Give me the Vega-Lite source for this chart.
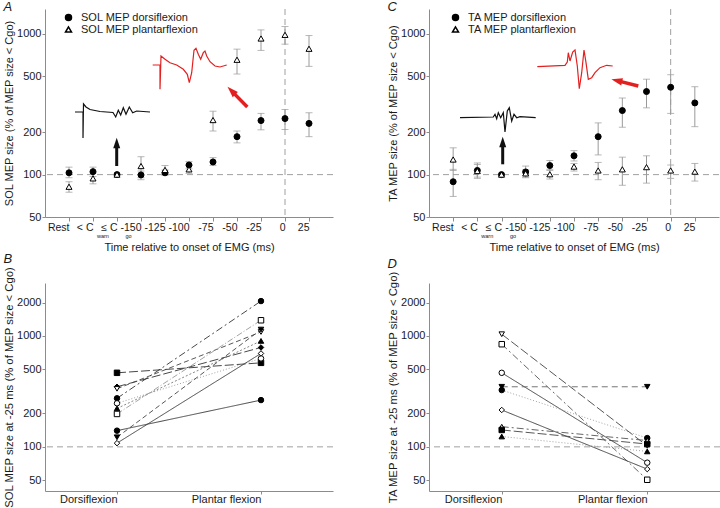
{
  "$schema": "https://vega.github.io/schema/vega-lite/v6.json",
  "padding": {"left": 3, "top": 0, "right": 0, "bottom": 0},
  "config": {
    "font": "Liberation Sans",
    "view": {"stroke": null},
    "axis": {"domainColor": "#8c8c8c", "tickColor": "#8c8c8c", "labelColor": "#1a1a1a", "titleColor": "#1a1a1a", "labelFontSize": 11, "titleFontSize": 11, "titleFontWeight": "normal", "grid": false, "tickSize": 3, "labelPadding": 2, "labelFont": "Liberation Sans", "titleFont": "Liberation Sans"},
    "title": {"fontSize": 13, "fontStyle": "italic", "fontWeight": "normal", "anchor": "start", "frame": "bounds", "font": "Liberation Sans", "color": "#1a1a1a"}
  },
  "datasets": {
    "solA": [
      {"cond": "Rest", "series": "SOL MEP dorsiflexion", "v": 103, "lo": 95, "hi": 113},
      {"cond": "<Cwarn", "series": "SOL MEP dorsiflexion", "v": 105, "lo": 97, "hi": 113},
      {"cond": "≤Cgo", "series": "SOL MEP dorsiflexion", "v": 100, "lo": null, "hi": null},
      {"cond": "-150", "series": "SOL MEP dorsiflexion", "v": 99.5, "lo": 92, "hi": 106},
      {"cond": "-125", "series": "SOL MEP dorsiflexion", "v": 103, "lo": 99, "hi": 108},
      {"cond": "-100", "series": "SOL MEP dorsiflexion", "v": 117, "lo": 110, "hi": 124},
      {"cond": "-75", "series": "SOL MEP dorsiflexion", "v": 123, "lo": 116, "hi": 132},
      {"cond": "-50", "series": "SOL MEP dorsiflexion", "v": 186, "lo": 168, "hi": 204},
      {"cond": "-25", "series": "SOL MEP dorsiflexion", "v": 242, "lo": 208, "hi": 272},
      {"cond": "0", "series": "SOL MEP dorsiflexion", "v": 250, "lo": 209, "hi": 290},
      {"cond": "25", "series": "SOL MEP dorsiflexion", "v": 231, "lo": 186, "hi": 275},
      {"cond": "Rest", "series": "SOL MEP plantarflexion", "v": 82, "lo": 75, "hi": 89},
      {"cond": "<Cwarn", "series": "SOL MEP plantarflexion", "v": 94, "lo": 86, "hi": 103},
      {"cond": "≤Cgo", "series": "SOL MEP plantarflexion", "v": 100, "lo": null, "hi": null},
      {"cond": "-150", "series": "SOL MEP plantarflexion", "v": 115, "lo": 95, "hi": 134},
      {"cond": "-125", "series": "SOL MEP plantarflexion", "v": 108, "lo": 102, "hi": 116},
      {"cond": "-100", "series": "SOL MEP plantarflexion", "v": 109, "lo": 102, "hi": 116},
      {"cond": "-75", "series": "SOL MEP plantarflexion", "v": 244, "lo": 204, "hi": 282},
      {"cond": "-50", "series": "SOL MEP plantarflexion", "v": 654, "lo": 518, "hi": 778},
      {"cond": "-25", "series": "SOL MEP plantarflexion", "v": 926, "lo": 762, "hi": 1066},
      {"cond": "0", "series": "SOL MEP plantarflexion", "v": 983, "lo": 844, "hi": 1126},
      {"cond": "25", "series": "SOL MEP plantarflexion", "v": 783, "lo": 587, "hi": 972}
    ],
    "taC": [
      {"cond": "Rest", "series": "TA MEP dorsiflexion", "v": 89, "lo": 70, "hi": 109},
      {"cond": "<Cwarn", "series": "TA MEP dorsiflexion", "v": 107, "lo": 96, "hi": 121},
      {"cond": "≤Cgo", "series": "TA MEP dorsiflexion", "v": 100, "lo": null, "hi": null},
      {"cond": "-150", "series": "TA MEP dorsiflexion", "v": 104.5, "lo": 95, "hi": 115},
      {"cond": "-125", "series": "TA MEP dorsiflexion", "v": 116, "lo": 107, "hi": 126},
      {"cond": "-100", "series": "TA MEP dorsiflexion", "v": 136, "lo": 125, "hi": 148},
      {"cond": "-75", "series": "TA MEP dorsiflexion", "v": 186, "lo": 138, "hi": 233},
      {"cond": "-50", "series": "TA MEP dorsiflexion", "v": 285, "lo": 217, "hi": 350},
      {"cond": "-25", "series": "TA MEP dorsiflexion", "v": 389, "lo": 298, "hi": 476},
      {"cond": "0", "series": "TA MEP dorsiflexion", "v": 417, "lo": 272, "hi": 512},
      {"cond": "25", "series": "TA MEP dorsiflexion", "v": 323, "lo": 219, "hi": 421},
      {"cond": "Rest", "series": "TA MEP plantarflexion", "v": 128, "lo": 107, "hi": 155},
      {"cond": "<Cwarn", "series": "TA MEP plantarflexion", "v": 106, "lo": 94, "hi": 118},
      {"cond": "≤Cgo", "series": "TA MEP plantarflexion", "v": 100, "lo": null, "hi": null},
      {"cond": "-150", "series": "TA MEP plantarflexion", "v": 102, "lo": 96, "hi": 108},
      {"cond": "-125", "series": "TA MEP plantarflexion", "v": 100.6, "lo": 93, "hi": 109},
      {"cond": "-100", "series": "TA MEP plantarflexion", "v": 114, "lo": 106, "hi": 120},
      {"cond": "-75", "series": "TA MEP plantarflexion", "v": 107, "lo": 92, "hi": 122},
      {"cond": "-50", "series": "TA MEP plantarflexion", "v": 109, "lo": 84, "hi": 133},
      {"cond": "-25", "series": "TA MEP plantarflexion", "v": 113, "lo": 87, "hi": 136},
      {"cond": "0", "series": "TA MEP plantarflexion", "v": 107, "lo": 94, "hi": 117},
      {"cond": "25", "series": "TA MEP plantarflexion", "v": 105, "lo": 90, "hi": 120}
    ],
    "solB": [
      {"subj": "s1", "cond": "Dorsiflexion", "v": 465}, {"subj": "s1", "cond": "Plantar flexion", "v": 572},
      {"subj": "s2", "cond": "Dorsiflexion", "v": 348}, {"subj": "s2", "cond": "Plantar flexion", "v": 787},
      {"subj": "s3", "cond": "Dorsiflexion", "v": 334}, {"subj": "s3", "cond": "Plantar flexion", "v": 1086},
      {"subj": "s4", "cond": "Dorsiflexion", "v": 274}, {"subj": "s4", "cond": "Plantar flexion", "v": 2062},
      {"subj": "s5", "cond": "Dorsiflexion", "v": 247}, {"subj": "s5", "cond": "Plantar flexion", "v": 627},
      {"subj": "s6", "cond": "Dorsiflexion", "v": 222}, {"subj": "s6", "cond": "Plantar flexion", "v": 902},
      {"subj": "s7", "cond": "Dorsiflexion", "v": 198}, {"subj": "s7", "cond": "Plantar flexion", "v": 1384},
      {"subj": "s8", "cond": "Dorsiflexion", "v": 140}, {"subj": "s8", "cond": "Plantar flexion", "v": 264},
      {"subj": "s9", "cond": "Dorsiflexion", "v": 122}, {"subj": "s9", "cond": "Plantar flexion", "v": 1141},
      {"subj": "s10", "cond": "Dorsiflexion", "v": 108}, {"subj": "s10", "cond": "Plantar flexion", "v": 695}
    ],
    "taD": [
      {"subj": "d1", "cond": "Dorsiflexion", "v": 1036}, {"subj": "d1", "cond": "Plantar flexion", "v": 102},
      {"subj": "d2", "cond": "Dorsiflexion", "v": 842}, {"subj": "d2", "cond": "Plantar flexion", "v": 50.5},
      {"subj": "d3", "cond": "Dorsiflexion", "v": 465}, {"subj": "d3", "cond": "Plantar flexion", "v": 72},
      {"subj": "d4", "cond": "Dorsiflexion", "v": 348}, {"subj": "d4", "cond": "Plantar flexion", "v": 348},
      {"subj": "d5", "cond": "Dorsiflexion", "v": 325}, {"subj": "d5", "cond": "Plantar flexion", "v": 120},
      {"subj": "d6", "cond": "Dorsiflexion", "v": 215}, {"subj": "d6", "cond": "Plantar flexion", "v": 63},
      {"subj": "d7", "cond": "Dorsiflexion", "v": 152}, {"subj": "d7", "cond": "Plantar flexion", "v": 114},
      {"subj": "d8", "cond": "Dorsiflexion", "v": 142}, {"subj": "d8", "cond": "Plantar flexion", "v": 106},
      {"subj": "d9", "cond": "Dorsiflexion", "v": 124}, {"subj": "d9", "cond": "Plantar flexion", "v": 91}
    ],
    "trA_k": [
      {"i": 1, "t": 30, "a": 105}, {"i": 2, "t": 38, "a": 105}, {"i": 3, "t": 38, "a": 79}, {"i": 4, "t": 38.5, "a": 113},
      {"i": 5, "t": 41, "a": 110}, {"i": 6, "t": 45, "a": 107.5}, {"i": 7, "t": 55, "a": 105.5}, {"i": 8, "t": 68, "a": 104.5},
      {"i": 9, "t": 70.7, "a": 100}, {"i": 10, "t": 73.3, "a": 106.7}, {"i": 11, "t": 75.7, "a": 102}, {"i": 12, "t": 78.3, "a": 109.3},
      {"i": 13, "t": 81, "a": 102.7}, {"i": 14, "t": 84.3, "a": 110}, {"i": 15, "t": 87.7, "a": 104.3}, {"i": 16, "t": 91.7, "a": 106},
      {"i": 17, "t": 105, "a": 105}
    ],
    "trA_r": [
      {"i": 1, "t": 107.7, "a": 152}, {"i": 2, "t": 115, "a": 152}, {"i": 3, "t": 115, "a": 127.7}, {"i": 4, "t": 116, "a": 161},
      {"i": 5, "t": 120, "a": 157.7}, {"i": 6, "t": 125, "a": 154.3}, {"i": 7, "t": 131.7, "a": 152}, {"i": 8, "t": 138.3, "a": 147.7},
      {"i": 9, "t": 142.3, "a": 142.7}, {"i": 10, "t": 144.3, "a": 134.3}, {"i": 11, "t": 146.7, "a": 144.3}, {"i": 12, "t": 149, "a": 166.7},
      {"i": 13, "t": 151, "a": 168.7}, {"i": 14, "t": 153.3, "a": 162.7}, {"i": 15, "t": 155.7, "a": 157.7}, {"i": 16, "t": 158.3, "a": 164.3},
      {"i": 17, "t": 160, "a": 166}, {"i": 18, "t": 161.7, "a": 161}, {"i": 19, "t": 165, "a": 155.3}, {"i": 20, "t": 170, "a": 151},
      {"i": 21, "t": 175, "a": 150}, {"i": 22, "t": 181.7, "a": 152}
    ],
    "shA_k": [{"i": 1, "t": 71.7, "a": 51}, {"i": 2, "t": 71.7, "a": 70}],
    "hdA_k": [{"t": 71.7, "a": 73.8}],
    "shA_r": [{"i": 1, "t": 202.3, "a": 110}, {"i": 2, "t": 188.5, "a": 124.1}],
    "hdA_r": [{"t": 186.6, "a": 126.1}],
    "trC_k": [
      {"i": 1, "t": 31, "a": 99.3}, {"i": 2, "t": 64.3, "a": 100}, {"i": 3, "t": 66, "a": 102.7}, {"i": 4, "t": 67.7, "a": 98.3},
      {"i": 5, "t": 69.3, "a": 104.3}, {"i": 6, "t": 71.7, "a": 99.3}, {"i": 7, "t": 74.3, "a": 104.3}, {"i": 8, "t": 76, "a": 85},
      {"i": 9, "t": 78.3, "a": 106}, {"i": 10, "t": 80.3, "a": 109.3}, {"i": 11, "t": 82.7, "a": 96}, {"i": 12, "t": 85, "a": 102.7},
      {"i": 13, "t": 87.7, "a": 99.3}, {"i": 14, "t": 91, "a": 100.3}, {"i": 15, "t": 106.7, "a": 99.3}
    ],
    "trC_r": [
      {"i": 1, "t": 108.3, "a": 150.3}, {"i": 2, "t": 136, "a": 151.7}, {"i": 3, "t": 138.3, "a": 155}, {"i": 4, "t": 139.3, "a": 164.3},
      {"i": 5, "t": 141, "a": 156}, {"i": 6, "t": 143.7, "a": 165}, {"i": 7, "t": 146, "a": 167}, {"i": 8, "t": 148.3, "a": 151},
      {"i": 9, "t": 150.3, "a": 128.3}, {"i": 10, "t": 152.7, "a": 144.3}, {"i": 11, "t": 155, "a": 167}, {"i": 12, "t": 157, "a": 154.3},
      {"i": 13, "t": 159.3, "a": 137.7}, {"i": 14, "t": 162.7, "a": 139.3}, {"i": 15, "t": 166, "a": 144.3}, {"i": 16, "t": 171, "a": 149.3},
      {"i": 17, "t": 177.7, "a": 151.7}, {"i": 18, "t": 183.7, "a": 151}
    ],
    "shC_k": [{"i": 1, "t": 73.7, "a": 52.7}, {"i": 2, "t": 73.7, "a": 70}],
    "hdC_k": [{"t": 73.7, "a": 74.8}],
    "shC_r": [{"i": 1, "t": 209.3, "a": 131}, {"i": 2, "t": 190, "a": 135.9}],
    "hdC_r": [{"t": 188, "a": 136.4}]
  },
  "resolve": {"scale": {"shape": "independent", "fill": "independent", "stroke": "independent", "strokeDash": "independent"}, "legend": {"shape": "independent", "fill": "independent", "stroke": "independent"}},
  "spacing": 0,
  "vconcat": [
    {
      "spacing": 53,
      "resolve": {"scale": {"shape": "independent", "fill": "independent", "stroke": "independent", "strokeDash": "independent"}, "legend": {"shape": "independent", "fill": "independent", "stroke": "independent"}},
      "hconcat": [
        {
          "width": 288, "height": 208,
          "title": {"text": "A", "offset": -5},
          "resolve": {"scale": {"x": "independent", "y": "independent"}, "axis": {"x": "independent", "y": "independent"}},
          "layer": [
            {
              "data": {"name": "solA"},
              "layer": [
                {"data": {"values": [{}]}, "mark": {"type": "rule", "color": "#a0a0a0", "strokeDash": [6, 4], "strokeWidth": 1}, "encoding": {"y": {"datum": 100, "type": "quantitative", "scale": {"type": "log", "domain": [50, 1500], "nice": false}}}},
                {"data": {"values": [{}]}, "mark": {"type": "rule", "color": "#a0a0a0", "strokeDash": [6, 4], "strokeWidth": 1}, "encoding": {"x": {"datum": "0", "type": "ordinal", "scale": {"type": "point", "domain": ["Rest", "<Cwarn", "≤Cgo", "-150", "-125", "-100", "-75", "-50", "-25", "0", "25"], "padding": 1}}}},
                {"transform": [{"filter": "datum.lo != null"}], "mark": {"type": "rule", "color": "#9a9a9a", "strokeWidth": 1},
                 "encoding": {
                   "x": {"field": "cond", "type": "ordinal", "title": "Time relative to onset of EMG (ms)", "scale": {"type": "point", "domain": ["Rest", "<Cwarn", "≤Cgo", "-150", "-125", "-100", "-75", "-50", "-25", "0", "25"], "padding": 1}},
                   "y": {"field": "lo", "type": "quantitative", "title": "SOL MEP size (% of MEP size < Cgo)", "scale": {"type": "log", "domain": [50, 1500], "nice": false}},
                   "y2": {"field": "hi"}}},
                {"transform": [{"filter": "datum.lo != null"}], "mark": {"type": "tick", "color": "#9a9a9a", "size": 7, "thickness": 1},
                 "encoding": {
                   "x": {"field": "cond", "type": "ordinal", "title": "Time relative to onset of EMG (ms)", "scale": {"type": "point", "domain": ["Rest", "<Cwarn", "≤Cgo", "-150", "-125", "-100", "-75", "-50", "-25", "0", "25"], "padding": 1}},
                   "y": {"field": "lo", "type": "quantitative", "title": "SOL MEP size (% of MEP size < Cgo)", "scale": {"type": "log", "domain": [50, 1500], "nice": false}}}},
                {"transform": [{"filter": "datum.lo != null"}], "mark": {"type": "tick", "color": "#9a9a9a", "size": 7, "thickness": 1},
                 "encoding": {
                   "x": {"field": "cond", "type": "ordinal", "title": "Time relative to onset of EMG (ms)", "scale": {"type": "point", "domain": ["Rest", "<Cwarn", "≤Cgo", "-150", "-125", "-100", "-75", "-50", "-25", "0", "25"], "padding": 1}},
                   "y": {"field": "hi", "type": "quantitative", "title": "SOL MEP size (% of MEP size < Cgo)", "scale": {"type": "log", "domain": [50, 1500], "nice": false}}}},
                {"mark": {"type": "point", "filled": true, "strokeWidth": 1, "size": 36, "opacity": 1},
                 "encoding": {
                   "x": {"field": "cond", "type": "ordinal", "title": "Time relative to onset of EMG (ms)", "scale": {"type": "point", "domain": ["Rest", "<Cwarn", "≤Cgo", "-150", "-125", "-100", "-75", "-50", "-25", "0", "25"], "padding": 1},
                         "axis": {"labelAngle": 0, "labelOverlap": false, "labelFontSize": 10.5, "tickSize": 4, "labelPadding": 6, "titlePadding": 9, "labelExpr": "datum.value == '<Cwarn' ? '< C\u00a0\u00a0\u00a0' : (datum.value == '≤Cgo' ? '≤ C' : datum.value)"}},
                   "y": {"field": "v", "type": "quantitative", "title": "SOL MEP size (% of MEP size < Cgo)", "scale": {"type": "log", "domain": [50, 1500], "nice": false},
                         "axis": {"values": [50, 100, 200, 500, 1000], "format": "d", "tickSize": 3, "labelPadding": 1, "titlePadding": 2}},
                   "shape": {"field": "series", "type": "nominal", "scale": {"domain": ["SOL MEP dorsiflexion", "SOL MEP plantarflexion"], "range": ["circle", "triangle-up"]},
                             "legend": {"orient": "none", "legendX": 18, "legendY": 3, "title": null, "labelFontSize": 11, "symbolSize": 36, "rowPadding": -1, "padding": 0, "labelOffset": 7, "labelLimit": 300, "labelColor": "#1a1a1a"}},
                   "fill": {"field": "series", "type": "nominal", "scale": {"domain": ["SOL MEP dorsiflexion", "SOL MEP plantarflexion"], "range": ["#000000", "#ffffff"]},
                             "legend": {"orient": "none", "legendX": 18, "legendY": 3, "title": null, "labelFontSize": 11, "symbolSize": 36, "rowPadding": -1, "padding": 0, "labelOffset": 7, "labelLimit": 300, "labelColor": "#1a1a1a"}},
                   "stroke": {"field": "series", "type": "nominal", "scale": {"domain": ["SOL MEP dorsiflexion", "SOL MEP plantarflexion"], "range": ["#000000", "#000000"]},
                             "legend": {"orient": "none", "legendX": 18, "legendY": 3, "title": null, "labelFontSize": 11, "symbolSize": 36, "rowPadding": -1, "padding": 0, "labelOffset": 7, "labelLimit": 300, "labelColor": "#1a1a1a"}}}},
                {"data": {"values": [{"cond": "<Cwarn", "sub": "warn"}]},
                 "mark": {"type": "text", "align": "left", "baseline": "middle", "dx": 4, "dy": 19, "fontSize": 5.5, "color": "#1a1a1a"},
                 "encoding": {
                   "x": {"field": "cond", "type": "ordinal", "title": "Time relative to onset of EMG (ms)", "scale": {"type": "point", "domain": ["Rest", "<Cwarn", "≤Cgo", "-150", "-125", "-100", "-75", "-50", "-25", "0", "25"], "padding": 1}},
                   "y": {"datum": 50, "type": "quantitative", "scale": {"type": "log", "domain": [50, 1500], "nice": false}},
                   "text": {"field": "sub"}}},
                {"data": {"values": [{"cond": "≤Cgo", "sub": "go"}]},
                 "mark": {"type": "text", "align": "left", "baseline": "middle", "dx": 8.5, "dy": 19, "fontSize": 5.5, "color": "#1a1a1a"},
                 "encoding": {
                   "x": {"field": "cond", "type": "ordinal", "title": "Time relative to onset of EMG (ms)", "scale": {"type": "point", "domain": ["Rest", "<Cwarn", "≤Cgo", "-150", "-125", "-100", "-75", "-50", "-25", "0", "25"], "padding": 1}},
                   "y": {"datum": 50, "type": "quantitative", "scale": {"type": "log", "domain": [50, 1500], "nice": false}},
                   "text": {"field": "sub"}}}
              ]
            },
            {
              "layer": [
                {"data": {"name": "trA_k"}, "mark": {"type": "line", "color": "#111111", "strokeWidth": 1.2},
                 "encoding": {"x": {"field": "t", "type": "quantitative", "scale": {"domain": [0, 288], "nice": false, "zero": false}, "axis": null}, "y": {"field": "a", "type": "quantitative", "scale": {"domain": [0, 208], "nice": false, "zero": false}, "axis": null}, "order": {"field": "i"}}},
                {"data": {"name": "trA_r"}, "mark": {"type": "line", "color": "#e3201f", "strokeWidth": 1.2},
                 "encoding": {"x": {"field": "t", "type": "quantitative"}, "y": {"field": "a", "type": "quantitative"}, "order": {"field": "i"}}},
                {"data": {"name": "shA_k"}, "mark": {"type": "line", "color": "#111111", "strokeWidth": 3},
                 "encoding": {"x": {"field": "t", "type": "quantitative"}, "y": {"field": "a", "type": "quantitative"}, "order": {"field": "i"}}},
                {"data": {"name": "hdA_k"}, "mark": {"type": "point", "shape": "M-0.7,1L0,-1.1L0.7,1Z", "filled": true, "color": "#111111", "size": 100, "opacity": 1},
                 "encoding": {"x": {"field": "t", "type": "quantitative"}, "y": {"field": "a", "type": "quantitative"}}},
                {"data": {"name": "shA_r"}, "mark": {"type": "line", "color": "#e3201f", "strokeWidth": 3.5},
                 "encoding": {"x": {"field": "t", "type": "quantitative"}, "y": {"field": "a", "type": "quantitative"}, "order": {"field": "i"}}},
                {"data": {"name": "hdA_r"}, "mark": {"type": "point", "shape": "M-0.7,1L0,-1.1L0.7,1Z", "filled": true, "color": "#e3201f", "size": 110, "angle": -45, "opacity": 1},
                 "encoding": {"x": {"field": "t", "type": "quantitative"}, "y": {"field": "a", "type": "quantitative"}}}
              ]
            }
          ]
        },
        {
          "width": 290, "height": 208,
          "title": {"text": "C", "offset": -5},
          "resolve": {"scale": {"x": "independent", "y": "independent"}, "axis": {"x": "independent", "y": "independent"}},
          "layer": [
            {
              "data": {"name": "taC"},
              "layer": [
                {"data": {"values": [{}]}, "mark": {"type": "rule", "color": "#a0a0a0", "strokeDash": [6, 4], "strokeWidth": 1}, "encoding": {"y": {"datum": 100, "type": "quantitative", "scale": {"type": "log", "domain": [50, 1500], "nice": false}}}},
                {"data": {"values": [{}]}, "mark": {"type": "rule", "color": "#a0a0a0", "strokeDash": [6, 4], "strokeWidth": 1}, "encoding": {"x": {"datum": "0", "type": "ordinal", "scale": {"type": "point", "domain": ["Rest", "<Cwarn", "≤Cgo", "-150", "-125", "-100", "-75", "-50", "-25", "0", "25"], "padding": 1}}}},
                {"transform": [{"filter": "datum.lo != null"}], "mark": {"type": "rule", "color": "#9a9a9a", "strokeWidth": 1},
                 "encoding": {
                   "x": {"field": "cond", "type": "ordinal", "title": "Time relative to onset of EMG (ms)", "scale": {"type": "point", "domain": ["Rest", "<Cwarn", "≤Cgo", "-150", "-125", "-100", "-75", "-50", "-25", "0", "25"], "padding": 1}},
                   "y": {"field": "lo", "type": "quantitative", "title": "TA MEP size (% of MEP size < Cgo)", "scale": {"type": "log", "domain": [50, 1500], "nice": false}},
                   "y2": {"field": "hi"}}},
                {"transform": [{"filter": "datum.lo != null"}], "mark": {"type": "tick", "color": "#9a9a9a", "size": 7, "thickness": 1},
                 "encoding": {
                   "x": {"field": "cond", "type": "ordinal", "title": "Time relative to onset of EMG (ms)", "scale": {"type": "point", "domain": ["Rest", "<Cwarn", "≤Cgo", "-150", "-125", "-100", "-75", "-50", "-25", "0", "25"], "padding": 1}},
                   "y": {"field": "lo", "type": "quantitative", "title": "TA MEP size (% of MEP size < Cgo)", "scale": {"type": "log", "domain": [50, 1500], "nice": false}}}},
                {"transform": [{"filter": "datum.lo != null"}], "mark": {"type": "tick", "color": "#9a9a9a", "size": 7, "thickness": 1},
                 "encoding": {
                   "x": {"field": "cond", "type": "ordinal", "title": "Time relative to onset of EMG (ms)", "scale": {"type": "point", "domain": ["Rest", "<Cwarn", "≤Cgo", "-150", "-125", "-100", "-75", "-50", "-25", "0", "25"], "padding": 1}},
                   "y": {"field": "hi", "type": "quantitative", "title": "TA MEP size (% of MEP size < Cgo)", "scale": {"type": "log", "domain": [50, 1500], "nice": false}}}},
                {"mark": {"type": "point", "filled": true, "strokeWidth": 1, "size": 36, "opacity": 1},
                 "encoding": {
                   "x": {"field": "cond", "type": "ordinal", "title": "Time relative to onset of EMG (ms)", "scale": {"type": "point", "domain": ["Rest", "<Cwarn", "≤Cgo", "-150", "-125", "-100", "-75", "-50", "-25", "0", "25"], "padding": 1},
                         "axis": {"labelAngle": 0, "labelOverlap": false, "labelFontSize": 10.5, "tickSize": 4, "labelPadding": 6, "titlePadding": 9, "labelExpr": "datum.value == '<Cwarn' ? '< C\u00a0\u00a0\u00a0' : (datum.value == '≤Cgo' ? '≤ C' : datum.value)"}},
                   "y": {"field": "v", "type": "quantitative", "title": "TA MEP size (% of MEP size < Cgo)", "scale": {"type": "log", "domain": [50, 1500], "nice": false},
                         "axis": {"values": [50, 100, 200, 500, 1000], "format": "d", "tickSize": 3, "labelPadding": 1, "titlePadding": 2}},
                   "shape": {"field": "series", "type": "nominal", "scale": {"domain": ["TA MEP dorsiflexion", "TA MEP plantarflexion"], "range": ["circle", "triangle-up"]},
                             "legend": {"orient": "none", "legendX": 21, "legendY": 3, "title": null, "labelFontSize": 11, "symbolSize": 36, "rowPadding": -1, "padding": 0, "labelOffset": 7, "labelLimit": 300, "labelColor": "#1a1a1a"}},
                   "fill": {"field": "series", "type": "nominal", "scale": {"domain": ["TA MEP dorsiflexion", "TA MEP plantarflexion"], "range": ["#000000", "#ffffff"]},
                             "legend": {"orient": "none", "legendX": 21, "legendY": 3, "title": null, "labelFontSize": 11, "symbolSize": 36, "rowPadding": -1, "padding": 0, "labelOffset": 7, "labelLimit": 300, "labelColor": "#1a1a1a"}},
                   "stroke": {"field": "series", "type": "nominal", "scale": {"domain": ["TA MEP dorsiflexion", "TA MEP plantarflexion"], "range": ["#000000", "#000000"]},
                             "legend": {"orient": "none", "legendX": 21, "legendY": 3, "title": null, "labelFontSize": 11, "symbolSize": 36, "rowPadding": -1, "padding": 0, "labelOffset": 7, "labelLimit": 300, "labelColor": "#1a1a1a"}}}},
                {"data": {"values": [{"cond": "<Cwarn", "sub": "warn"}]},
                 "mark": {"type": "text", "align": "left", "baseline": "middle", "dx": 4, "dy": 19, "fontSize": 5.5, "color": "#1a1a1a"},
                 "encoding": {
                   "x": {"field": "cond", "type": "ordinal", "title": "Time relative to onset of EMG (ms)", "scale": {"type": "point", "domain": ["Rest", "<Cwarn", "≤Cgo", "-150", "-125", "-100", "-75", "-50", "-25", "0", "25"], "padding": 1}},
                   "y": {"datum": 50, "type": "quantitative", "scale": {"type": "log", "domain": [50, 1500], "nice": false}},
                   "text": {"field": "sub"}}},
                {"data": {"values": [{"cond": "≤Cgo", "sub": "go"}]},
                 "mark": {"type": "text", "align": "left", "baseline": "middle", "dx": 8.5, "dy": 19, "fontSize": 5.5, "color": "#1a1a1a"},
                 "encoding": {
                   "x": {"field": "cond", "type": "ordinal", "title": "Time relative to onset of EMG (ms)", "scale": {"type": "point", "domain": ["Rest", "<Cwarn", "≤Cgo", "-150", "-125", "-100", "-75", "-50", "-25", "0", "25"], "padding": 1}},
                   "y": {"datum": 50, "type": "quantitative", "scale": {"type": "log", "domain": [50, 1500], "nice": false}},
                   "text": {"field": "sub"}}}
              ]
            },
            {
              "layer": [
                {"data": {"name": "trC_k"}, "mark": {"type": "line", "color": "#111111", "strokeWidth": 1.2},
                 "encoding": {"x": {"field": "t", "type": "quantitative", "scale": {"domain": [0, 290], "nice": false, "zero": false}, "axis": null}, "y": {"field": "a", "type": "quantitative", "scale": {"domain": [0, 208], "nice": false, "zero": false}, "axis": null}, "order": {"field": "i"}}},
                {"data": {"name": "trC_r"}, "mark": {"type": "line", "color": "#e3201f", "strokeWidth": 1.2},
                 "encoding": {"x": {"field": "t", "type": "quantitative"}, "y": {"field": "a", "type": "quantitative"}, "order": {"field": "i"}}},
                {"data": {"name": "shC_k"}, "mark": {"type": "line", "color": "#111111", "strokeWidth": 3},
                 "encoding": {"x": {"field": "t", "type": "quantitative"}, "y": {"field": "a", "type": "quantitative"}, "order": {"field": "i"}}},
                {"data": {"name": "hdC_k"}, "mark": {"type": "point", "shape": "M-0.7,1L0,-1.1L0.7,1Z", "filled": true, "color": "#111111", "size": 100, "opacity": 1},
                 "encoding": {"x": {"field": "t", "type": "quantitative"}, "y": {"field": "a", "type": "quantitative"}}},
                {"data": {"name": "shC_r"}, "mark": {"type": "line", "color": "#e3201f", "strokeWidth": 3.5},
                 "encoding": {"x": {"field": "t", "type": "quantitative"}, "y": {"field": "a", "type": "quantitative"}, "order": {"field": "i"}}},
                {"data": {"name": "hdC_r"}, "mark": {"type": "point", "shape": "M-0.7,1L0,-1.1L0.7,1Z", "filled": true, "color": "#e3201f", "size": 110, "angle": -76, "opacity": 1},
                 "encoding": {"x": {"field": "t", "type": "quantitative"}, "y": {"field": "a", "type": "quantitative"}}}
              ]
            }
          ]
        }
      ]
    },
    {
      "spacing": 53,
      "resolve": {"scale": {"shape": "independent", "fill": "independent", "stroke": "independent", "strokeDash": "independent"}, "legend": {"shape": "independent", "fill": "independent", "stroke": "independent"}},
      "hconcat": [
        {
          "width": 288, "height": 208,
          "title": {"text": "B", "offset": 0},
          "data": {"name": "solB"},
          "layer": [
            {"data": {"values": [{}]}, "mark": {"type": "rule", "color": "#a0a0a0", "strokeDash": [6, 4], "strokeWidth": 1}, "encoding": {"y": {"datum": 100, "type": "quantitative", "scale": {"type": "log", "domain": [40, 3000], "nice": false}}}},
            {"mark": {"type": "line", "strokeWidth": 0.9},
             "encoding": {
               "x": {"field": "cond", "type": "ordinal", "title": null, "scale": {"type": "point", "domain": ["Dorsiflexion", "Plantar flexion"], "padding": 0.5}},
               "y": {"field": "v", "type": "quantitative", "title": "SOL MEP size at -25 ms (% of MEP size < Cgo)", "scale": {"type": "log", "domain": [40, 3000], "nice": false}},
               "strokeDash": {"field": "subj", "type": "nominal", "legend": null, "scale": {"domain": ["s1", "s2", "s3", "s4", "s5", "s6", "s7", "s8", "s9", "s10"], "range": [[9, 3], [9, 3], [5, 3], [7, 3, 2, 3], [1, 2], [2, 2], [6, 2, 1, 2], [1, 0], [5, 3], [1, 0]]}},
               "stroke": {"field": "subj", "type": "nominal", "legend": null, "scale": {"domain": ["s1", "s2", "s3", "s4", "s5", "s6", "s7", "s8", "s9", "s10"], "range": ["#333333", "#333333", "#444444", "#333333", "#999999", "#777777", "#999999", "#333333", "#444444", "#333333"]}}}},
            {"mark": {"type": "point", "filled": true, "stroke": "#000000", "strokeWidth": 1, "size": 30, "opacity": 1},
             "encoding": {
               "x": {"field": "cond", "type": "ordinal", "title": null, "scale": {"type": "point", "domain": ["Dorsiflexion", "Plantar flexion"], "padding": 0.5}, "axis": {"labelAngle": 0, "tickSize": 3, "labelPadding": 5}},
               "y": {"field": "v", "type": "quantitative", "title": "SOL MEP size at -25 ms (% of MEP size < Cgo)", "scale": {"type": "log", "domain": [40, 3000], "nice": false},
                     "axis": {"values": [50, 100, 200, 500, 1000, 2000], "format": "d", "tickSize": 3, "labelPadding": 1, "titlePadding": 2, "titleFontSize": 11.3}},
               "shape": {"field": "subj", "type": "nominal", "legend": null, "scale": {"domain": ["s1", "s2", "s3", "s4", "s5", "s6", "s7", "s8", "s9", "s10"], "range": ["square", "diamond", "triangle-down", "circle", "circle", "triangle-up", "square", "circle", "triangle-down", "diamond"]}},
               "fill": {"field": "subj", "type": "nominal", "legend": null, "scale": {"domain": ["s1", "s2", "s3", "s4", "s5", "s6", "s7", "s8", "s9", "s10"], "range": ["#000000", "#000000", "#ffffff", "#000000", "#ffffff", "#000000", "#ffffff", "#000000", "#000000", "#ffffff"]}}}}
          ]
        },
        {
          "width": 291, "height": 208,
          "title": {"text": "D", "offset": 0},
          "data": {"name": "taD"},
          "layer": [
            {"data": {"values": [{}]}, "mark": {"type": "rule", "color": "#a0a0a0", "strokeDash": [6, 4], "strokeWidth": 1}, "encoding": {"y": {"datum": 100, "type": "quantitative", "scale": {"type": "log", "domain": [40, 3000], "nice": false}}}},
            {"mark": {"type": "line", "strokeWidth": 0.9},
             "encoding": {
               "x": {"field": "cond", "type": "ordinal", "title": null, "scale": {"type": "point", "domain": ["Dorsiflexion", "Plantar flexion"], "padding": 0.5}},
               "y": {"field": "v", "type": "quantitative", "title": "TA MEP size at -25 ms (% of MEP size < Cgo)", "scale": {"type": "log", "domain": [40, 3000], "nice": false}},
               "strokeDash": {"field": "subj", "type": "nominal", "legend": null, "scale": {"domain": ["d1", "d2", "d3", "d4", "d5", "d6", "d7", "d8", "d9"], "range": [[9, 3], [7, 3, 2, 3], [1, 0], [6, 4], [1, 2], [1, 0], [7, 3, 2, 3], [9, 3], [1, 2]]}},
               "stroke": {"field": "subj", "type": "nominal", "legend": null, "scale": {"domain": ["d1", "d2", "d3", "d4", "d5", "d6", "d7", "d8", "d9"], "range": ["#444444", "#555555", "#333333", "#666666", "#999999", "#333333", "#555555", "#444444", "#999999"]}}}},
            {"mark": {"type": "point", "filled": true, "stroke": "#000000", "strokeWidth": 1, "size": 30, "opacity": 1},
             "encoding": {
               "x": {"field": "cond", "type": "ordinal", "title": null, "scale": {"type": "point", "domain": ["Dorsiflexion", "Plantar flexion"], "padding": 0.5}, "axis": {"labelAngle": 0, "tickSize": 3, "labelPadding": 5}},
               "y": {"field": "v", "type": "quantitative", "title": "TA MEP size at -25 ms (% of MEP size < Cgo)", "scale": {"type": "log", "domain": [40, 3000], "nice": false},
                     "axis": {"values": [50, 100, 200, 500, 1000, 2000], "format": "d", "tickSize": 3, "labelPadding": 1, "titlePadding": 2, "titleFontSize": 11.3}},
               "shape": {"field": "subj", "type": "nominal", "legend": null, "scale": {"domain": ["d1", "d2", "d3", "d4", "d5", "d6", "d7", "d8", "d9"], "range": ["triangle-down", "square", "circle", "triangle-down", "circle", "diamond", "triangle-up", "square", "triangle-up"]}},
               "fill": {"field": "subj", "type": "nominal", "legend": null, "scale": {"domain": ["d1", "d2", "d3", "d4", "d5", "d6", "d7", "d8", "d9"], "range": ["#ffffff", "#ffffff", "#ffffff", "#000000", "#000000", "#ffffff", "#ffffff", "#000000", "#000000"]}}}}
          ]
        }
      ]
    }
  ]
}
